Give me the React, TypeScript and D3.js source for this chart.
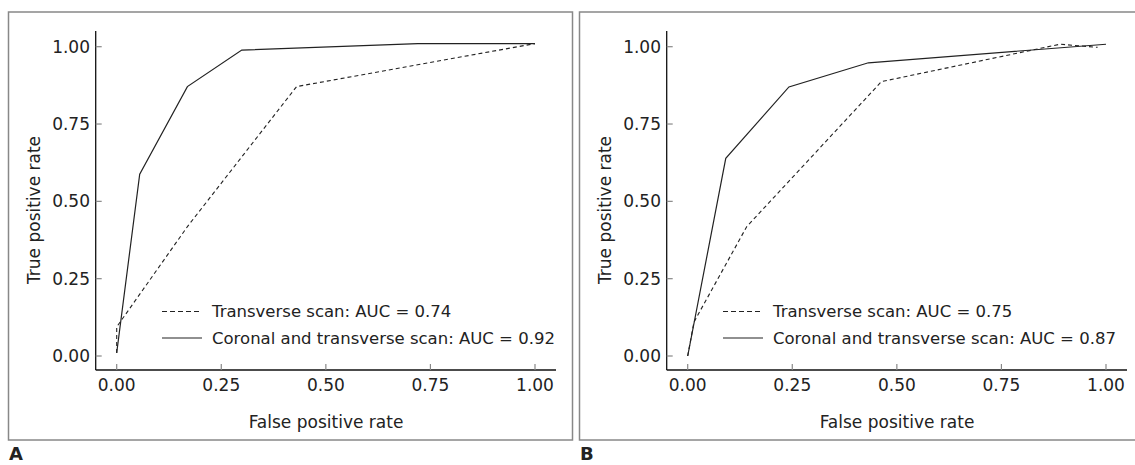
import React from "react";
import * as d3 from "d3";

// axis ticks shared by both panels
const tickValues = [0, 0.25, 0.5, 0.75, 1];
const tickLabels = ["0.00", "0.25", "0.50", "0.75", "1.00"];

// Panel A
const aTransFpr = [0, 0, 0.17, 0.43, 1.0];
const aTransTpr = [0.01, 0.094, 0.42, 0.871, 1.01];
const aBothFpr = [0, 0.055, 0.169, 0.299, 0.72, 1.0];
const aBothTpr = [0.01, 0.588, 0.871, 0.989, 1.01, 1.01];
const aLegend = ["Transverse scan: AUC = 0.74", "Coronal and transverse scan: AUC = 0.92"];

// Panel B
const bTransFpr = [0, 0.015, 0.141, 0.463, 0.89, 0.98];
const bTransTpr = [0, 0.11, 0.418, 0.887, 1.008, 0.998];
const bBothFpr = [0, 0.091, 0.242, 0.432, 1.0];
const bBothTpr = [0, 0.639, 0.87, 0.948, 1.008];
const bLegend = ["Transverse scan: AUC = 0.75", "Coronal and transverse scan: AUC = 0.87"];

const FONT = "'DejaVu Sans', sans-serif";
const INK = "#222";
const FS = 17;
const LEG_FS = 16.5;

type PanelProps = {
  dx: number;
  letter: string;
  transFpr: number[];
  transTpr: number[];
  bothFpr: number[];
  bothTpr: number[];
  legend: string[];
  legendX: number;
};

function Panel({ dx, letter, transFpr, transTpr, bothFpr, bothTpr, legend, legendX }: PanelProps) {
  const x = d3.scaleLinear().domain([0, 1]).range([116.7, 535]);
  const y = d3.scaleLinear().domain([0, 1]).range([356, 46.7]);
  const axisX = 95.7;
  const axisY = 370;

  const line = d3
    .line<[number, number]>()
    .x((d) => x(d[0]))
    .y((d) => y(d[1]));

  const trans = transFpr.map((v, i) => [v, transTpr[i]] as [number, number]);
  const both = bothFpr.map((v, i) => [v, bothTpr[i]] as [number, number]);

  return (
    <g transform={`translate(${dx},0)`}>
      {/* frame */}
      <rect x={8.5} y={12} width={564} height={428} fill="none" stroke="#888" strokeWidth={1.5} />

      {/* axes */}
      <line x1={axisX} x2={axisX} y1={31} y2={axisY} stroke="#111" strokeWidth={1.3} />
      <line x1={axisX} x2={556} y1={axisY} y2={axisY} stroke="#111" strokeWidth={1.3} />

      {tickValues.map((t, i) => (
        <g key={"x" + i}>
          <line x1={x(t)} x2={x(t)} y1={axisY} y2={axisY - 6} stroke="#888" strokeWidth={1.2} />
          <text x={x(t)} y={391} textAnchor="middle" fontSize={FS} fill={INK} fontFamily={FONT}>
            {tickLabels[i]}
          </text>
        </g>
      ))}
      {tickValues.map((t, i) => (
        <g key={"y" + i}>
          <line x1={axisX} x2={axisX + 6} y1={y(t)} y2={y(t)} stroke="#888" strokeWidth={1.2} />
          <text x={90} y={y(t)} dy="0.36em" textAnchor="end" fontSize={FS} fill={INK} fontFamily={FONT}>
            {tickLabels[i]}
          </text>
        </g>
      ))}

      {/* axis titles */}
      <text x={326} y={428} textAnchor="middle" fontSize={FS} fill={INK} fontFamily={FONT}>
        False positive rate
      </text>
      <text
        transform={`translate(40,210) rotate(-90)`}
        textAnchor="middle"
        fontSize={FS}
        fill={INK}
        fontFamily={FONT}
      >
        True positive rate
      </text>

      {/* curves */}
      <path d={line(trans) || ""} fill="none" stroke={INK} strokeWidth={1.1} strokeDasharray="4,3" />
      <path d={line(both) || ""} fill="none" stroke={INK} strokeWidth={1.2} />

      {/* legend */}
      <line x1={legendX} x2={legendX + 40} y1={311.5} y2={311.5} stroke={INK} strokeWidth={1.1} strokeDasharray="5,3" />
      <line x1={legendX} x2={legendX + 40} y1={338} y2={338} stroke={INK} strokeWidth={1.2} />
      <text x={legendX + 50} y={311.5} dy="0.36em" fontSize={LEG_FS} fill={INK} fontFamily={FONT}>
        {legend[0]}
      </text>
      <text x={legendX + 50} y={338} dy="0.36em" fontSize={LEG_FS} fill={INK} fontFamily={FONT}>
        {legend[1]}
      </text>

      <text x={9} y={460} fontSize={18} fontWeight="bold" fill={INK} fontFamily={FONT}>
        {letter}
      </text>
    </g>
  );
}

export default function App() {
  return (
    <div style={{ position: "absolute", left: 0, top: 0 }}>
      <svg width={1135} height={465} style={{ display: "block", background: "#fff" }}>
        <Panel
          dx={0}
          letter="A"
          transFpr={aTransFpr}
          transTpr={aTransTpr}
          bothFpr={aBothFpr}
          bothTpr={aBothTpr}
          legend={aLegend}
          legendX={162}
        />
        <Panel
          dx={571}
          letter="B"
          transFpr={bTransFpr}
          transTpr={bTransTpr}
          bothFpr={bBothFpr}
          bothTpr={bBothTpr}
          legend={bLegend}
          legendX={152}
        />
      </svg>
    </div>
  );
}
